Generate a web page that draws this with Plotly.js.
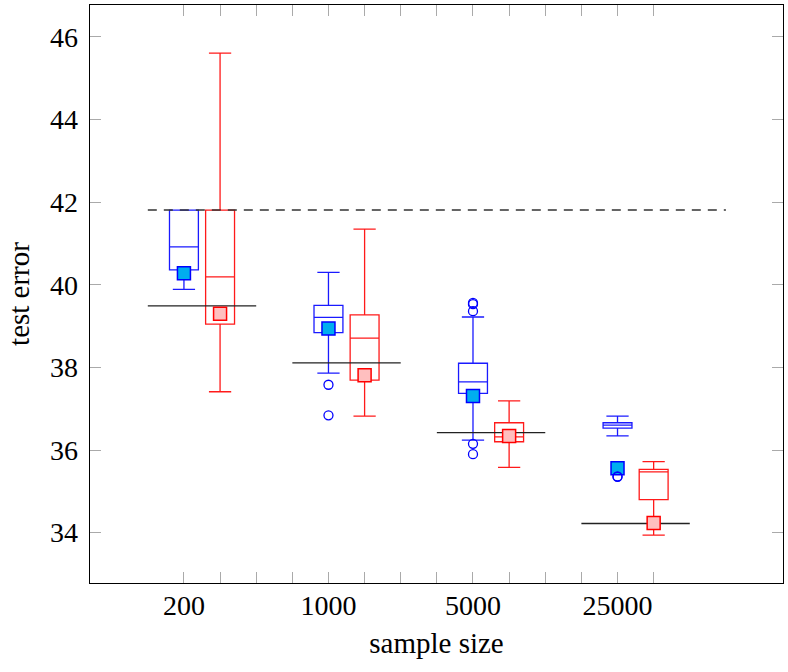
<!DOCTYPE html>
<html>
<head>
<meta charset="utf-8">
<script src="https://cdn.plot.ly/plotly-3.0.1.min.js"></script>
<style>
  body { margin: 0; background: #fff; }
  #chart { width: 788px; height: 672px; }
</style>
</head>
<body>
<div id="chart"></div>
<script>
// sample sizes (one group each)
var categories = ['200', '1000', '5000', '25000'];

// blue series: box statistics per sample size
var blueQ1     = [40.36, 38.84, 37.37, 36.53];
var blueMedian = [40.92, 39.21, 37.65, 36.60];
var blueQ3     = [41.81, 39.50, 38.10, 36.66];
var blueLow    = [39.89, 37.86, 36.24, 36.34];
var blueHigh   = [41.81, 40.30, 39.22, 36.82];
var blueMean   = [40.28, 38.94, 37.31, 35.56];
// outliers of the blue series, listed per group
var blueOutliers = [
  [],
  [37.58, 36.84],
  [39.53, 39.56, 39.36, 36.15, 35.90],
  [35.35, 35.36]
];

// red series
var redQ1     = [39.05, 37.69, 36.20, 34.80];
var redMedian = [40.19, 38.71, 36.32, 35.47];
var redQ3     = [41.81, 39.27, 36.66, 35.53];
var redLow    = [37.41, 36.82, 35.58, 33.94];
var redHigh   = [45.61, 41.35, 37.19, 35.72];
var redMean   = [39.30, 37.81, 36.34, 34.23];

// solid reference level per group, dashed level across all
var groupLevel = [39.49, 38.11, 36.42, 34.22];
var dashedLevel = 41.81;

// layout helpers: each group uses 4 slots on the x axis
function bluePos(i) { return 4 * i + 1; }
function redPos(i) { return 4 * i + 2; }

var blueX = categories.map(function (c, i) { return bluePos(i); });
var redX = categories.map(function (c, i) { return redPos(i); });

var traces = [];

traces.push({
  type: 'box',
  x: blueX,
  q1: blueQ1, median: blueMedian, q3: blueQ3,
  lowerfence: blueLow, upperfence: blueHigh,
  width: 0.8,
  whiskerwidth: 0.77,
  fillcolor: 'rgba(0,0,0,0)',
  line: { color: '#1a1aff', width: 1.3 },
  boxpoints: false,
  hoverinfo: 'skip'
});

traces.push({
  type: 'box',
  x: redX,
  q1: redQ1, median: redMedian, q3: redQ3,
  lowerfence: redLow, upperfence: redHigh,
  width: 0.8,
  whiskerwidth: 0.77,
  fillcolor: 'rgba(0,0,0,0)',
  line: { color: '#ff1a1a', width: 1.3 },
  boxpoints: false,
  hoverinfo: 'skip'
});

// black group levels
var lvlX = [], lvlY = [];
groupLevel.forEach(function (v, i) {
  lvlX.push(4 * i, 4 * i + 3, null);
  lvlY.push(v, v, null);
});
traces.push({
  type: 'scatter', mode: 'lines',
  x: lvlX, y: lvlY,
  line: { color: '#222', width: 1.4 },
  hoverinfo: 'skip'
});

// dashed overall level
traces.push({
  type: 'scatter', mode: 'lines',
  x: [0, 4 * categories.length], y: [dashedLevel, dashedLevel],
  line: { color: '#333', width: 1.4, dash: '9px,7px' },
  hoverinfo: 'skip'
});

// means
traces.push({
  type: 'scatter', mode: 'markers',
  x: blueX, y: blueMean,
  marker: { symbol: 'square', size: 13, color: '#00aeef', line: { color: '#0000ff', width: 1.5 } },
  hoverinfo: 'skip'
});
traces.push({
  type: 'scatter', mode: 'markers',
  x: redX, y: redMean,
  marker: { symbol: 'square', size: 13, color: '#ffbfbf', line: { color: '#ff0000', width: 1.5 } },
  hoverinfo: 'skip'
});

// outliers
var outX = [], outY = [];
blueOutliers.forEach(function (list, i) {
  list.forEach(function (v) { outX.push(bluePos(i)); outY.push(v); });
});
traces.push({
  type: 'scatter', mode: 'markers',
  x: outX, y: outY,
  marker: { symbol: 'circle-open', size: 9, color: '#0000ff', line: { color: '#0000ff', width: 1.3 } },
  hoverinfo: 'skip'
});

// ticks: every slot 1..14, labels only under the blue boxes
var tickVals = [], tickText = [];
for (var t = 1; t <= 4 * categories.length - 2; t++) {
  tickVals.push(t);
  tickText.push((t - 1) % 4 === 0 ? categories[(t - 1) / 4] : '');
}

var font = { family: '"Liberation Serif", "DejaVu Serif", serif', size: 28, color: '#000' };

var layout = {
  width: 788, height: 672,
  margin: { l: 90, r: 5, t: 5, b: 89 },
  paper_bgcolor: '#fff', plot_bgcolor: '#fff',
  showlegend: false,
  font: font,
  xaxis: {
    range: [-1.6, 17.58],
    tickvals: tickVals, ticktext: tickText,
    ticks: 'inside', ticklen: 11, tickcolor: '#aaa', tickwidth: 1,
    showline: true, linecolor: '#000', linewidth: 1.3, mirror: 'ticks',
    showgrid: false, zeroline: false,
    ticklabelstandoff: -3,
    title: { text: 'sample size', font: { family: font.family, size: 29, color: '#000' }, standoff: 12 },
    automargin: false
  },
  yaxis: {
    range: [32.78, 46.774],
    tickvals: [34, 36, 38, 40, 42, 44, 46],
    ticks: 'inside', ticklen: 11, tickcolor: '#aaa', tickwidth: 1,
    showline: true, linecolor: '#000', linewidth: 1.3, mirror: 'ticks',
    showgrid: false, zeroline: false,
    ticklabelstandoff: 5,
    title: { text: 'test error', font: { family: font.family, size: 29, color: '#000' }, standoff: 12 },
    automargin: false
  }
};

Plotly.newPlot('chart', traces, layout, { staticPlot: true, displayModeBar: false });
</script>
</body>
</html>
